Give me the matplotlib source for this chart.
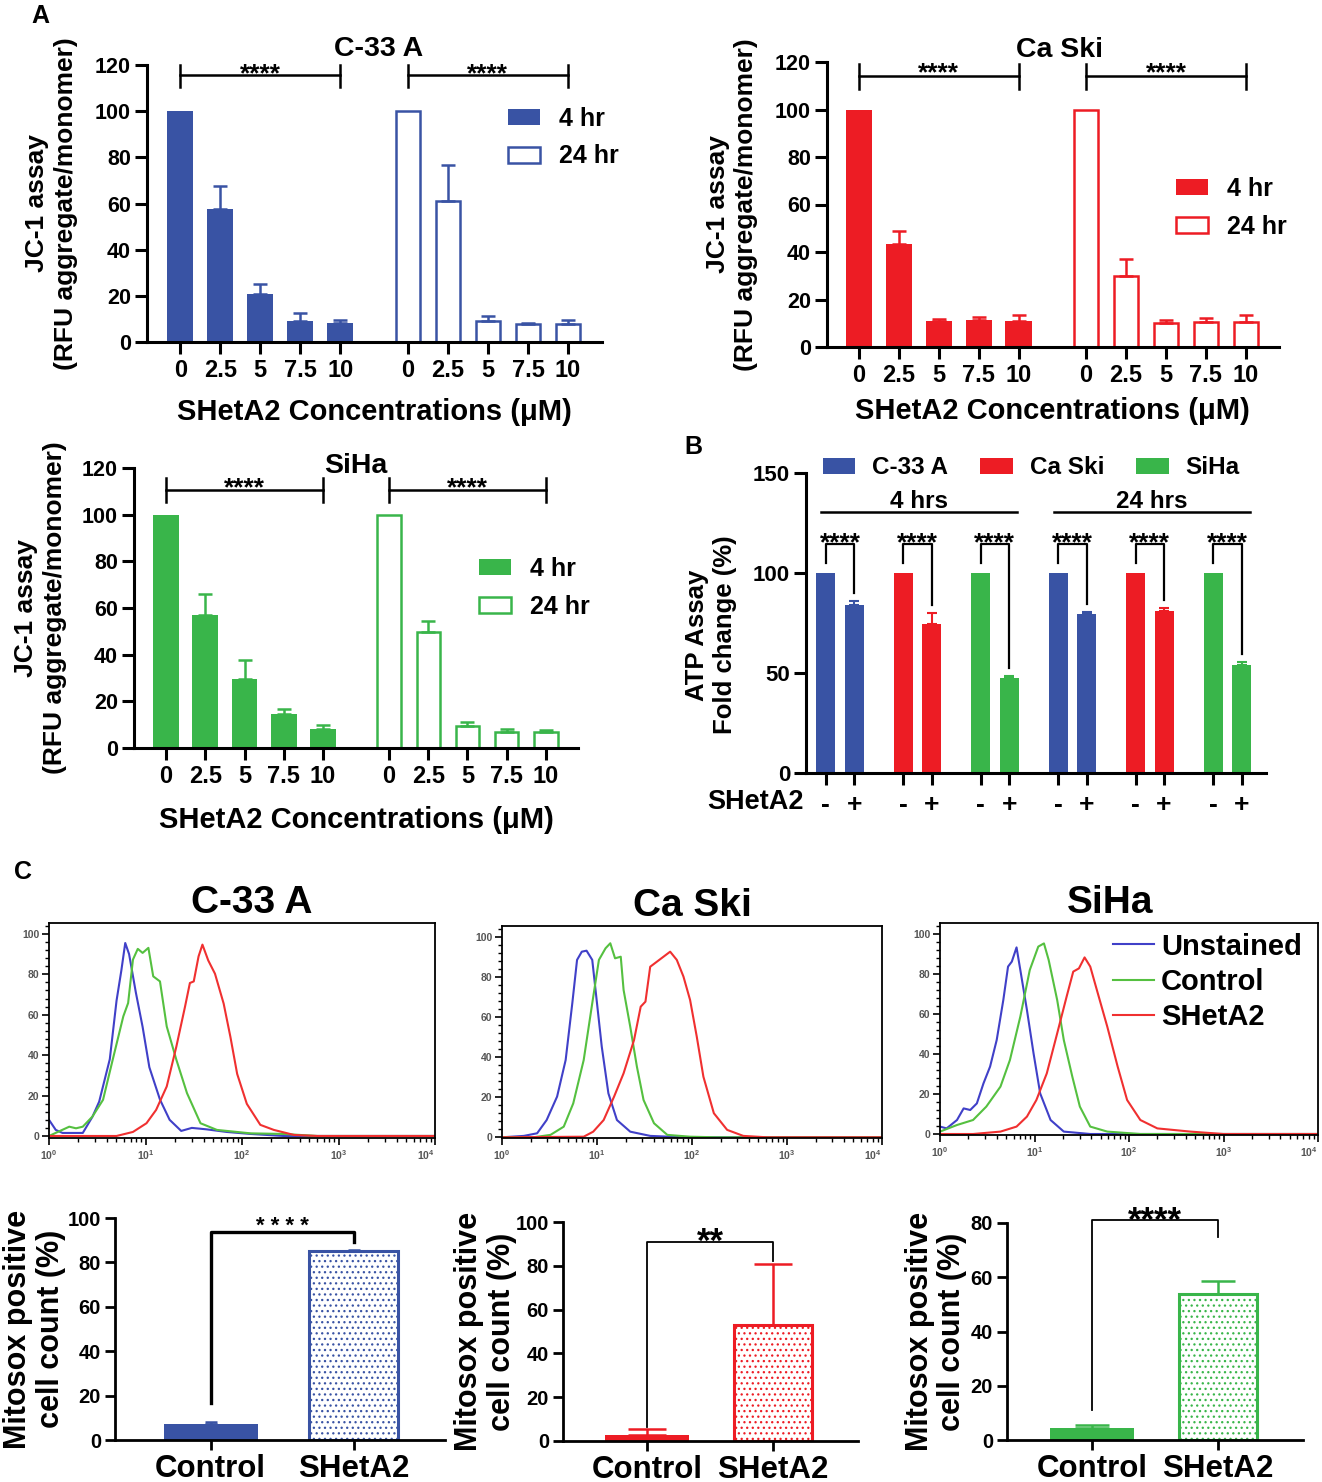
import numpy as np
import matplotlib
matplotlib.use('Agg')
import matplotlib.pyplot as plt
from matplotlib.ticker import MultipleLocator, LogLocator, NullFormatter

plt.rcParams['font.family'] = ['Liberation Sans', 'DejaVu Sans']
plt.rcParams['font.weight'] = 'bold'
plt.rcParams['axes.labelweight'] = 'bold'
plt.rcParams['axes.titleweight'] = 'bold'
plt.rcParams['hatch.linewidth'] = 0.9

W, H = 1322, 1482
BLUE, RED, GREEN = '#3953a4', '#ed1c24', '#39b54a'

######################## A: JC-1 assay ############################
conc = ['0', '2.5', '5', '7.5', '10']
c33a_4hr = [100, 57.5, 21, 9.1, 8.2]
c33a_4hr_err = [0, 10, 4.3, 3.5, 1.2]
c33a_24hr = [100, 60.9, 9.1, 7.6, 7.9]
c33a_24hr_err = [0, 15.9, 2, 0.6, 1.5]
caski_4hr = [100, 43.5, 10.9, 11.2, 10.9]
caski_4hr_err = [0, 5.2, 1, 1.4, 2.4]
caski_24hr = [100, 29.9, 10.1, 10.5, 10.5]
caski_24hr_err = [0, 7, 1.4, 1.9, 2.8]
siha_4hr = [100, 56.9, 29.7, 14.6, 8.3]
siha_4hr_err = [0, 9.2, 7.9, 2.3, 1.4]
siha_24hr = [100, 49.6, 9.6, 7, 7]
siha_24hr_err = [0, 4.7, 1.4, 1.1, 0.9]

######################## B: ATP assay ############################
atp_lines = ['C-33 A', 'Ca Ski', 'SiHa']
atp_untreated = [100, 100, 100]
atp_4hrs = [84, 74.5, 47.3]
atp_4hrs_err = [2.2, 5.7, 1.0]
atp_24hrs = [79.5, 81.2, 54]
atp_24hrs_err = [1.0, 1.5, 1.7]
atp_times = ['4 hrs', '24 hrs']

######################## C: Mitosox flow histograms (log10 FL, % max) ############################
flow_labels = ['Unstained', 'Control', 'SHetA2']
flow_decades = [1, 10, 100, 1000, 10000]
c33a_unst_lx = [0.00, 0.07, 0.14, 0.35, 0.45, 0.52, 0.63, 0.70, 0.75, 0.79, 0.83, 0.90, 0.97, 1.04, 1.15, 1.25, 1.37, 1.48, 1.63, 1.84, 2.09, 2.43, 4.0]
c33a_unst_y = [8, 3, 1.5, 1.5, 9.5, 17, 38, 67, 82, 95.5, 90, 71, 54, 34, 18, 8, 2.5, 4, 3.3, 2, 1, 0, 0]
c33a_ctrl_lx = [0, .21, .28, .35, .45, .56, .66, .77, .82, .87, .92, .97, 1.03, 1.08, 1.15, 1.22, 1.32, 1.43, 1.57, 1.74, 2.09, 2.43, 2.78, 4.0]
c33a_ctrl_y = [0, 4.6, 3.8, 4.6, 9.6, 17.9, 37.7, 59.2, 65.8, 87.3, 92.6, 90.6, 93.1, 79, 76.5, 54.2, 37.7, 21.2, 6.3, 3, 1.3, 1, 0, 0]
c33a_shet_lx = [0, .70, .87, 1.01, 1.11, 1.22, 1.32, 1.41, 1.46, 1.50, 1.55, 1.59, 1.65, 1.72, 1.81, 1.88, 1.95, 2.05, 2.19, 2.33, 2.54, 2.78, 4.0]
c33a_shet_y = [0, 0, 2, 6.3, 12.9, 24.5, 44.3, 64.1, 75.7, 76.5, 88.9, 94.7, 86.9, 80.3, 65.5, 49, 30.7, 15.9, 5.5, 3, 0.5, 0, 0]

caski_unst_lx = [0, .23, .37, .47, .58, .67, .74, .79, .84, .89, .95, 1.0, 1.05, 1.12, 1.21, 1.35, 1.56, 1.91, 4.0]
caski_unst_y = [0, .7, 2, 8.6, 20.3, 38.5, 66.8, 88.4, 92.5, 93, 88.4, 66.8, 45.2, 21.9, 8.6, 2.8, .7, 0, 0]
caski_ctrl_lx = [0, .33, .51, .65, .75, .86, .95, 1.02, 1.09, 1.14, 1.19, 1.25, 1.28, 1.35, 1.42, 1.49, 1.60, 1.74, 1.98, 2.26, 4.0]
caski_ctrl_y = [0, 0, 1.2, 5.3, 16.9, 38.5, 66.8, 88.4, 94.2, 96.7, 89.2, 90, 73.4, 55.1, 35.2, 18.6, 7, 1.2, .3, 0, 0]
caski_shet_lx = [0, .86, .96, 1.07, 1.18, 1.28, 1.39, 1.46, 1.51, 1.56, 1.63, 1.70, 1.77, 1.84, 1.91, 1.98, 2.05, 2.12, 2.23, 2.37, 2.54, 2.79, 4.0]
caski_shet_y = [0, .3, 2.8, 8.6, 20.3, 31.9, 48.5, 65.1, 67.6, 85, 87.5, 90, 92.5, 88.4, 80.1, 68.4, 50.2, 30.2, 12, 3.7, .7, 0, 0]

siha_unst_lx = [0, .07, .18, .25, .32, .39, .46, .53, .60, .67, .72, .76, .81, .85, .92, .99, 1.06, 1.17, 1.31, 1.59, 4.0]
siha_unst_y = [3.7, 2.8, 7, 12.8, 12, 15.3, 25.3, 33.7, 47, 67, 83.7, 86.2, 93.3, 82, 62, 40.3, 20.3, 7, 1.2, 0, 0]
siha_ctrl_lx = [0, .18, .35, .49, .64, .74, .85, .95, 1.04, 1.10, 1.15, 1.24, 1.31, 1.40, 1.48, 1.59, 1.77, 2.12, 4.0]
siha_ctrl_y = [1.2, 4.5, 7, 13.7, 23.7, 37, 58.7, 82, 93.7, 95.3, 87, 67, 47, 28.7, 13.7, 3.7, 1.2, 0, 0]
siha_shet_lx = [0, .35, .64, .81, .92, 1.02, 1.13, 1.24, 1.34, 1.41, 1.47, 1.53, 1.59, 1.66, 1.77, 1.88, 1.98, 2.12, 2.30, 2.65, 3.0, 4.0]
siha_shet_y = [0, 0, 1.2, 3.7, 8.7, 17, 30.3, 50.3, 68.7, 81.2, 82.8, 88.3, 83.7, 72, 53.7, 33.7, 17, 7, 2.8, 1.2, 0, 0]

######################## C: Mitosox positive bars ############################
mito_groups = ['Control', 'SHetA2']
mito_c33a = [7.2, 85]
mito_c33a_err = [0.7, 0.8]
mito_caski = [2.8, 53.1]
mito_caski_err = [2.8, 27.6]
mito_siha = [4.6, 54]
mito_siha_err = [1, 4.5]

fig = plt.figure(figsize=(W / 100, H / 100), dpi=100)


def add_ax(l, t, r, b):
    return fig.add_axes([l / W, 1 - b / H, (r - l) / W, (b - t) / H])


def open_axes(ax, lw=2.2, tick_len=8.5):
    ax.spines['top'].set_visible(False)
    ax.spines['right'].set_visible(False)
    ax.spines['left'].set_linewidth(lw)
    ax.spines['bottom'].set_linewidth(lw)
    ax.tick_params(length=tick_len, width=lw, direction='out')


def upper_err(ax, x, v, e, color, capsize, lw):
    x, v, e = np.asarray(x, float), np.asarray(v, float), np.asarray(e, float)
    m = e > 0
    ax.errorbar(x[m], v[m], yerr=[np.zeros(m.sum()), e[m]], fmt='none', ecolor=color,
                elinewidth=lw, capsize=capsize, capthick=lw, zorder=3, clip_on=False)


def stars(ax, x, y, s, fs):
    # y is the visual centre of the asterisks
    ax.annotate(s, (x, y), xytext=(0, -0.58 * fs), textcoords='offset points',
                ha='center', va='baseline', fontsize=fs, annotation_clip=False)


def jc1_panel(ax, color, v4, e4, v24, e24, title, xlim, title_y, br_y, leg_xy, xlab_y):
    pos1 = np.arange(5)
    pos2 = pos1 + 5.69
    ax.bar(pos1, v4, 0.66, color=color, label='4 hr', zorder=2)
    ax.bar(pos2, v24, 0.6, facecolor='white', edgecolor=color, linewidth=1.8,
           label='24 hr', zorder=2)
    upper_err(ax, pos1, v4, e4, color, 5, 1.8)
    upper_err(ax, pos2, v24, e24, color, 5, 1.8)
    ax.set_xlim(*xlim)
    ax.set_ylim(0, 120)
    ax.set_yticks(range(0, 121, 20))
    ax.set_xticks(np.concatenate([pos1, pos2]))
    ax.set_xticklabels(conc + conc)
    open_axes(ax)
    ax.tick_params(axis='y', labelsize=15.5, pad=3)
    ax.tick_params(axis='x', labelsize=17, pad=4)
    yb, up, dn, ys = br_y
    for a, b in [(pos1[0], pos1[-1]), (pos2[0], pos2[-1])]:
        ax.plot([a, b], [yb, yb], color='k', lw=1.8, clip_on=False)
        ax.plot([a, a], [up, dn], color='k', lw=1.8, clip_on=False)
        ax.plot([b, b], [up, dn], color='k', lw=1.8, clip_on=False)
        stars(ax, (a + b) / 2, ys, '****', 19)
    ax.text(title_y[0], title_y[1], title, ha='center', va='center', fontsize=20.5)
    ax.legend(loc='center left', bbox_to_anchor=leg_xy, frameon=False, fontsize=18,
              handlelength=1.3, handleheight=0.6, handletextpad=0.75, labelspacing=0.55,
              borderpad=0, borderaxespad=0)
    ax.set_ylabel('JC-1 assay\n(RFU aggregate/monomer)', fontsize=19, linespacing=1.25)
    ax.yaxis.set_label_coords(-0.21, 0.5)
    ax.yaxis.label.set_va('center')
    ax.set_xlabel('SHetA2 Concentrations (\u03bcM)', fontsize=21)
    ax.xaxis.set_label_coords(4.85, xlab_y, transform=ax.transData)
    ax.xaxis.label.set_va('center')


axA1 = add_ax(147, 65, 602, 342)
jc1_panel(axA1, BLUE, c33a_4hr, c33a_4hr_err, c33a_24hr, c33a_24hr_err, 'C-33 A',
          (-0.83, 10.54), (4.97, 127), (115.7, 120, 110.5, 119.5), (0.793, 0.738), -30.3)
axA2 = add_ax(827, 62, 1279, 347)
jc1_panel(axA2, RED, caski_4hr, caski_4hr_err, caski_24hr, caski_24hr_err, 'Ca Ski',
          (-0.8, 10.52), (5.03, 124.9), (114, 119.3, 108.8, 118.6), (0.772, 0.488), -27)
axA3 = add_ax(134, 468, 578, 748)
jc1_panel(axA3, GREEN, siha_4hr, siha_4hr_err, siha_24hr, siha_24hr_err, 'SiHa',
          (-0.82, 10.51), (4.84, 121), (110.4, 115.7, 105.3, 115), (0.777, 0.571), -30.7)

######################## B ############################
axB = add_ax(806, 473, 1266, 773)
off, bw = 0.184, 0.246
atp_colors = [BLUE, RED, GREEN]
for k in range(3):
    cx = np.array([k, k + 3])
    vals = [atp_4hrs[k], atp_24hrs[k]]
    errs = [atp_4hrs_err[k], atp_24hrs_err[k]]
    axB.bar(cx - off, [atp_untreated[k]] * 2, bw, color=atp_colors[k], label=atp_lines[k])
    axB.bar(cx + off, vals, bw, color=atp_colors[k])
    upper_err(axB, cx + off, vals, errs, atp_colors[k], 3.5, 1.5)
    for x, v, e in zip(cx, vals, errs):
        axB.plot([x - off, x - off, x + off, x + off], [105, 114.5, 114.5, v + e + 4],
                 color='k', lw=1.6)
        stars(axB, x, 119, '****', 19)
for t, i0 in zip(atp_times, [0, 3]):
    axB.plot([i0 - 0.24, i0 + 2.29], [130.6, 130.6], color='k', lw=1.8)
    axB.text(i0 + 1.02, 135.8, t, ha='center', va='center', fontsize=17.5)
axB.set_xlim(-0.44, 5.5)
axB.set_ylim(0, 150)
axB.set_yticks([0, 50, 100, 150])
xt = np.sort(np.concatenate([np.arange(6) - off, np.arange(6) + off]))
axB.set_xticks(xt)
axB.set_xticklabels(['-', '+'] * 6)
open_axes(axB)
axB.tick_params(axis='y', labelsize=16, pad=3)
axB.tick_params(axis='x', labelsize=19, pad=6)
axB.text(-0.005, -14.5, 'SHetA2', transform=axB.get_yaxis_transform(), ha='right',
         va='center', fontsize=19.5)
axB.set_ylabel('ATP Assay\nFold change (%)', fontsize=18.5, linespacing=1.2)
axB.yaxis.set_label_coords(-0.207, 0.46)
axB.yaxis.label.set_va('center')
axB.legend(loc='center left', bbox_to_anchor=(0.036, 1.017), ncol=3, frameon=False,
           fontsize=17.5, handlelength=1.35, handleheight=0.6, handletextpad=0.7,
           columnspacing=1.3, borderpad=0, borderaxespad=0)

######################## C: histograms ############################
flow_colors = ['#4040c8', '#55c040', '#f03030']


def flow_panel(ax, curves, ylim, title, title_x):
    for (lx, y), c, lab in zip(curves, flow_colors, flow_labels):
        ax.plot(10 ** np.asarray(lx), y, color=c, lw=1.5, label=lab)
    ax.set_xscale('log')
    ax.set_xlim(1, 1e4)
    ax.set_ylim(*ylim)
    ax.set_xticks(flow_decades)
    ax.set_yticks(range(0, 101, 20))
    ax.yaxis.set_minor_locator(MultipleLocator(4))
    ax.xaxis.set_minor_locator(LogLocator(base=10, subs=np.arange(2, 10), numticks=10))
    ax.xaxis.set_minor_formatter(NullFormatter())
    ax.tick_params(which='major', length=5, width=1.2, labelsize=7.5, labelcolor='#555555', pad=2)
    ax.tick_params(which='minor', length=3, width=1)
    for s in ax.spines.values():
        s.set_linewidth(1.3)
    ax.set_title(title, fontsize=28, fontweight='bold', x=title_x, pad=7)
    ax.xaxis.get_major_ticks()[-1].label1.set_horizontalalignment('right')


axF1 = add_ax(49, 923, 435, 1138)
flow_panel(axF1, [(c33a_unst_lx, c33a_unst_y), (c33a_ctrl_lx, c33a_ctrl_y),
                  (c33a_shet_lx, c33a_shet_y)], (-1.0, 105.4), 'C-33 A', 0.526)
axF2 = add_ax(502, 926, 882, 1138)
flow_panel(axF2, [(caski_unst_lx, caski_unst_y), (caski_ctrl_lx, caski_ctrl_y),
                  (caski_shet_lx, caski_shet_y)], (-0.35, 105.3), 'Ca Ski', 0.5)
axF3 = add_ax(940, 923, 1318, 1135)
flow_panel(axF3, [(siha_unst_lx, siha_unst_y), (siha_ctrl_lx, siha_ctrl_y),
                  (siha_shet_lx, siha_shet_y)], (-0.5, 105.5), 'SiHa', 0.45)
axF3.legend(loc='upper left', bbox_to_anchor=(0.458, 0.955), frameon=False, fontsize=21,
            handlelength=1.4, handletextpad=0.25, labelspacing=0.25, borderpad=0,
            borderaxespad=0)

######################## C: Mitosox bars ############################


def mito_panel(ax, color, vals, errs, xlim, ylim, yticks, br, br_lw, star_y, star_s, star_fs,
               capsize, ylab_x):
    ax.bar(0, vals[0], 0.66, color=color, zorder=2)
    ax.bar(1, vals[1], 0.62, facecolor='white', edgecolor=color, linewidth=2.2,
           hatch='...', zorder=2)
    upper_err(ax, [0, 1], vals, errs, color, capsize, 1.8)
    ax.set_xlim(*xlim)
    ax.set_ylim(*ylim)
    ax.set_yticks(yticks)
    ax.set_xticks([0, 1])
    ax.set_xticklabels(mito_groups)
    open_axes(ax, lw=2.0, tick_len=7)
    ax.tick_params(axis='y', labelsize=14.5, pad=3)
    ax.tick_params(axis='x', labelsize=22.5, pad=3)
    ax.plot([0, 0, 1, 1], br, color='k', lw=br_lw, clip_on=False, zorder=4)
    stars(ax, 0.5, star_y, star_s, star_fs)
    ax.set_ylabel('Mitosox positive\ncell count (%)', fontsize=22, linespacing=1.12)
    ax.yaxis.set_label_coords(ylab_x, 0.5)
    ax.yaxis.label.set_va('center')


axM1 = add_ax(115, 1218, 445, 1440)
mito_panel(axM1, BLUE, mito_c33a, mito_c33a_err, (-0.67, 1.64), (0, 100), range(0, 101, 20),
           [16.5, 93.7, 93.7, 89], 2.4, 99.7, '* * * *', 16, 4, -0.245)
axM2 = add_ax(563, 1222, 858, 1441)
mito_panel(axM2, RED, mito_caski, mito_caski_err, (-0.667, 1.675), (0, 100), range(0, 101, 20),
           [6.5, 90.9, 90.9, 82.2], 1.3, 95.4, '**', 25, 14, -0.262)
axM3 = add_ax(1007, 1223, 1303, 1440)
mito_panel(axM3, GREEN, mito_siha, mito_siha_err, (-0.675, 1.675), (0, 80), range(0, 81, 20),
           [11.1, 81.2, 81.2, 75], 1.3, 84.5, '****', 25, 12, -0.24)

######################## Panel letters ############################
fig.text(40 / W, 1 - 16 / H, 'A', fontsize=18, ha='center', va='center')
fig.text(693 / W, 1 - 447 / H, 'B', fontsize=18, ha='center', va='center')
fig.text(23 / W, 1 - 872 / H, 'C', fontsize=18, ha='center', va='center')

fig.savefig('out.png', dpi=100)
